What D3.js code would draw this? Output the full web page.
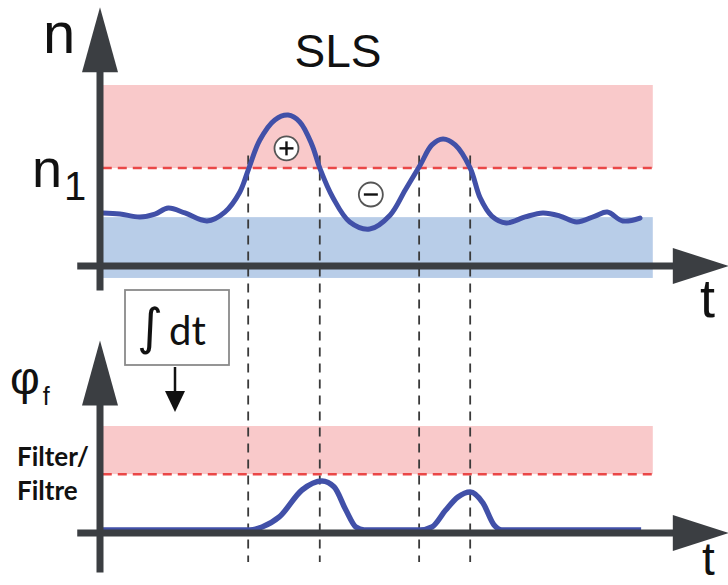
<!DOCTYPE html>
<html>
<head>
<meta charset="utf-8">
<script src="https://cdn.jsdelivr.net/npm/d3@7"></script>
<style>
  html, body { margin: 0; padding: 0; background: #fff; }
  svg { display: block; }
</style>
</head>
<body>
<svg id="chart" width="728" height="585"></svg>
<script>
// ---------- data ----------
const topTimes = [0.5, 3.6, 7.2, 9.9, 12.3, 15.3, 19.3, 22.5, 25.2, 26.7, 28.8, 31.5, 33.9, 36.0, 38.2, 39.6, 42.0, 45.0, 48.6, 52.3, 55.0, 57.7, 59.8, 61.8, 64.0, 66.7, 68.5, 70.6, 73.2, 76.6, 79.8, 82.9, 85.9, 89.2, 91.4, 94.2, 97.3];
const topValues = [29.3, 28.7, 27.1, 28.7, 32.0, 29.3, 24.9, 29.8, 40.9, 53.0, 69.6, 80.7, 83.4, 79.6, 66.9, 54.1, 37.6, 24.3, 20.4, 28.2, 42.0, 55.8, 66.9, 70.2, 66.9, 54.1, 37.6, 27.6, 23.8, 27.1, 29.3, 27.6, 24.3, 27.6, 29.8, 24.9, 26.5];

const bottomTimes = [0.5, 27.0, 29.2, 32.3, 36.4, 40.0, 42.2, 44.3, 46.1, 47.6, 57.7, 59.8, 62.3, 64.5, 66.7, 69.0, 71.0, 72.4, 97.5];
const bottomValues = [2.8, 2.8, 5.6, 15.0, 40.2, 48.6, 43.0, 21.5, 5.6, 2.8, 2.8, 5.6, 21.5, 33.6, 38.3, 28.0, 7.5, 2.8, 2.8];

const bandSpan = [0.5, 99.6];          // time extent of the shaded bands
const topPinkBand = [54.1, 100];       // n range
const topBlueBand = [-6.6, 27];        // n range
const n1Level = 54.1;
const bottomPinkBand = [55, 100];      // phi range
const filterLevel = 55;
const crossingTimes = [26.7, 39.6, 57.5, 66.7];

const labelTitle = "SLS";
const labelN = "n";
const labelN1 = ["n", "1"];
const labelPhi = ["φ", "f"];
const labelT = "t";
const labelFilter = ["Filter/", "Filtre"];
const labelIntegral = ["∫", "dt"];

// ---------- scales ----------
const svg = d3.select("#chart");
const x = d3.scaleLinear().domain([0, 100]).range([100, 655]);
const yTop = d3.scaleLinear().domain([0, 100]).range([266, 85]);
const yBot = d3.scaleLinear().domain([0, 100]).range([533, 426]);

const AXIS = "#3b3e42";
const CURVE = "#4150a8";
const PINK = "#f9c9ca";
const BLUE = "#b8cde8";
const RED = "#ea4747";

// ---------- bands ----------
function band(y, range, color) {
  svg.append("rect")
    .attr("x", x(bandSpan[0]))
    .attr("width", x(bandSpan[1]) - x(bandSpan[0]))
    .attr("y", y(range[1]))
    .attr("height", y(range[0]) - y(range[1]))
    .attr("fill", color);
}
band(yTop, topPinkBand, PINK);
band(yTop, topBlueBand, BLUE);
band(yBot, bottomPinkBand, PINK);

// threshold dashed lines
function threshold(y, v) {
  svg.append("line")
    .attr("x1", x(bandSpan[0])).attr("x2", x(bandSpan[1]))
    .attr("y1", y(v)).attr("y2", y(v))
    .attr("stroke", RED).attr("stroke-width", 2.5)
    .attr("stroke-dasharray", "9,6");
}
threshold(yTop, n1Level);
threshold(yBot, filterLevel);

// vertical crossing markers
svg.selectAll("line.cross").data(crossingTimes).enter().append("line")
  .attr("class", "cross")
  .attr("x1", d => x(d)).attr("x2", d => x(d))
  .attr("y1", yTop(61)).attr("y2", yBot(-27))
  .attr("stroke", "#3a3a3a").attr("stroke-width", 1.8)
  .attr("stroke-dasharray", "9,7");

// ---------- curves ----------
const lineTop = d3.line().x((d, i) => x(topTimes[i])).y(d => yTop(d)).curve(d3.curveCatmullRom.alpha(0.5));
svg.append("path").datum(topValues).attr("d", lineTop)
  .attr("fill", "none").attr("stroke", CURVE).attr("stroke-width", 5)
  .attr("stroke-linecap", "round").attr("stroke-linejoin", "round");

const lineBot = d3.line().x((d, i) => x(bottomTimes[i])).y(d => yBot(d)).curve(d3.curveMonotoneX);
svg.append("path").datum(bottomValues).attr("d", lineBot)
  .attr("fill", "none").attr("stroke", CURVE).attr("stroke-width", 5.5)
  .attr("stroke-linejoin", "round");

// ---------- axes ----------
function axes(y, vTop, vBottom, headTopLen) {
  const x0 = x(0);
  const yZero = y(0);
  svg.append("line").attr("x1", x0).attr("x2", x0)
    .attr("y1", y(vBottom)).attr("y2", y(vTop) + headTopLen - 2)
    .attr("stroke", AXIS).attr("stroke-width", 7);
  const tipY = y(vTop);
  svg.append("path")
    .attr("d", `M${x0},${tipY} L${x0 + 18},${tipY + headTopLen} L${x0 - 18},${tipY + headTopLen} Z`)
    .attr("fill", AXIS);
  const xs = x(-4.1), xe = x(113.3);
  svg.append("line").attr("x1", xs).attr("x2", xe - 54)
    .attr("y1", yZero).attr("y2", yZero)
    .attr("stroke", AXIS).attr("stroke-width", 7);
  svg.append("path")
    .attr("d", `M${xe},${yZero} L${xe - 56},${yZero - 18} L${xe - 56},${yZero + 18} Z`)
    .attr("fill", AXIS);
}
axes(yTop, 143, -13.5, 65);
axes(yBot, 180, -37, 65);

// ---------- plus / minus markers ----------
function sign(cx, cy, plus) {
  const g = svg.append("g");
  g.append("circle").attr("cx", cx).attr("cy", cy).attr("r", 12)
    .attr("fill", "#fff").attr("stroke", "#555").attr("stroke-width", 1.8);
  g.append("line").attr("x1", cx - 7).attr("x2", cx + 7).attr("y1", cy).attr("y2", cy)
    .attr("stroke", "#111").attr("stroke-width", 2.4);
  if (plus) g.append("line").attr("x1", cx).attr("x2", cx).attr("y1", cy - 7).attr("y2", cy + 7)
    .attr("stroke", "#111").attr("stroke-width", 2.4);
}
sign(x(33.6), yTop(65), true);
sign(x(48.8), yTop(39.5), false);

// ---------- text ----------
const SANS = "'Liberation Sans', Arial, sans-serif";
svg.append("text").attr("x", 338).attr("y", 67).attr("text-anchor", "middle")
  .attr("font-family", SANS).attr("font-size", 46).attr("fill", "#111").text(labelTitle);
svg.append("text").attr("x", 43).attr("y", 53)
  .attr("font-family", SANS).attr("font-size", 58).attr("fill", "#111").text(labelN);
const n1t = svg.append("text").attr("x", 32).attr("y", 187)
  .attr("font-family", SANS).attr("font-size", 54).attr("fill", "#111");
n1t.append("tspan").text(labelN1[0]);
n1t.append("tspan").attr("font-size", 40).attr("dy", 13).attr("dx", 2).text(labelN1[1]);

const phit = svg.append("text").attr("x", 10).attr("y", 394)
  .attr("font-family", SANS).attr("font-size", 46).attr("fill", "#111");
phit.append("tspan").text(labelPhi[0]);
phit.append("tspan").attr("font-size", 25).attr("dy", 11).attr("dx", 3).text(labelPhi[1]);

svg.append("text").attr("x", 700).attr("y", 317)
  .attr("font-family", SANS).attr("font-size", 54).attr("fill", "#111").text(labelT);
svg.append("text").attr("x", 702).attr("y", 575)
  .attr("font-family", SANS).attr("font-size", 46).attr("fill", "#111").text(labelT);

svg.append("text").attr("x", 17).attr("y", 466)
  .attr("font-family", "Lato, sans-serif").attr("font-weight", "bold").attr("font-size", 26)
  .attr("fill", "#111").text(labelFilter[0]);
svg.append("text").attr("x", 17).attr("y", 500)
  .attr("font-family", "Lato, sans-serif").attr("font-weight", "bold").attr("font-size", 26)
  .attr("fill", "#111").text(labelFilter[1]);

// integral box
svg.append("rect").attr("x", 125).attr("y", 290).attr("width", 104).attr("height", 75)
  .attr("fill", "#fff").attr("stroke", "#8a8a8a").attr("stroke-width", 1.8);
svg.append("text").attr("x", 137).attr("y", 344)
  .attr("font-family", "'DejaVu Sans', sans-serif").attr("font-size", 50).attr("fill", "#111").text(labelIntegral[0]);
svg.append("text").attr("x", 169).attr("y", 345)
  .attr("font-family", "Lato, sans-serif").attr("font-size", 40).attr("fill", "#111").text(labelIntegral[1]);
// down arrow
svg.append("line").attr("x1", 175).attr("x2", 175).attr("y1", 367).attr("y2", 394)
  .attr("stroke", "#111").attr("stroke-width", 2.5);
svg.append("path").attr("d", "M175,412 L165,391 L185,391 Z").attr("fill", "#111");
</script>
</body>
</html>
